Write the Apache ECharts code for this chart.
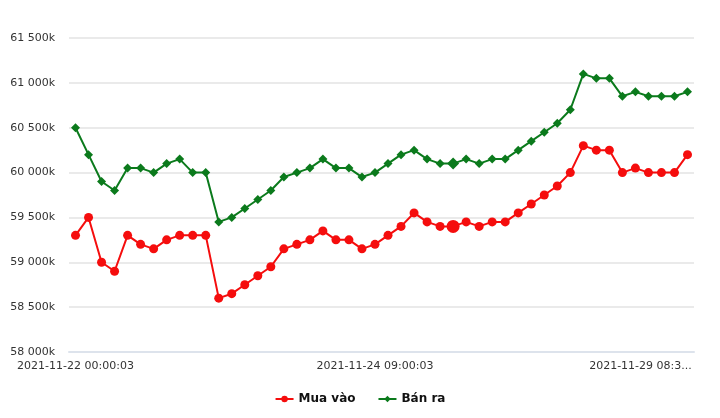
<!DOCTYPE html>
<html>
<head>
<meta charset="utf-8">
<script src="https://cdn.jsdelivr.net/npm/echarts@6/dist/echarts.min.js"></script>
<style>
html,body{margin:0;padding:0;background:#fff;}
#chart{width:720px;height:418px;}
</style>
</head>
<body>
<div id="chart"></div>
<script>
const categories = [
  "2021-11-22 00:00:03","2021-11-22 08:30:03","2021-11-22 09:00:03","2021-11-22 09:30:03","2021-11-22 10:00:03","2021-11-22 10:30:03",
  "2021-11-22 11:00:03","2021-11-22 13:30:03","2021-11-22 14:00:03","2021-11-22 15:00:03","2021-11-22 16:00:03",
  "2021-11-23 00:00:03","2021-11-23 08:30:03","2021-11-23 09:00:03","2021-11-23 09:30:03","2021-11-23 10:00:03","2021-11-23 10:30:03",
  "2021-11-23 11:00:03","2021-11-23 13:30:03","2021-11-23 14:00:03","2021-11-23 15:00:03","2021-11-23 16:00:03",
  "2021-11-24 00:00:03","2021-11-24 09:00:03","2021-11-24 09:30:03","2021-11-24 10:00:03","2021-11-24 11:00:03","2021-11-24 14:00:03",
  "2021-11-24 15:30:03","2021-11-25 00:00:03","2021-11-25 08:30:03","2021-11-25 09:00:03","2021-11-25 10:00:03","2021-11-25 11:00:03",
  "2021-11-25 14:00:03","2021-11-25 15:30:03","2021-11-26 00:00:03","2021-11-26 08:30:03","2021-11-26 09:00:03","2021-11-26 09:30:03",
  "2021-11-26 10:00:03","2021-11-26 11:00:03","2021-11-26 14:00:03","2021-11-27 00:00:03","2021-11-27 09:00:03","2021-11-28 00:00:03",
  "2021-11-29 08:30:03","2021-11-29 09:00:03"
];
const muaVao = [
  59300,59500,59000,58900,59300,59200,59150,59250,59300,59300,59300,
  58600,58650,58750,58850,58950,59150,59200,59250,59350,59250,59250,
  59150,59200,59300,59400,59550,59450,59400,59400,59450,59400,59450,59450,
  59550,59650,59750,59850,60000,60300,60250,60250,60000,60050,60000,60000,
  60000,60200
];
const banRa = [
  60500,60200,59900,59800,60050,60050,60000,60100,60150,60000,60000,
  59450,59500,59600,59700,59800,59950,60000,60050,60150,60050,60050,
  59950,60000,60100,60200,60250,60150,60100,60100,60150,60100,60150,60150,
  60250,60350,60450,60550,60700,61100,61050,61050,60850,60900,60850,60850,
  60850,60900
];
const labelIndices = [0, 23, 46];
const seriesNames = ["Mua vào", "Bán ra"];

const FONT = "'DejaVu Sans', sans-serif";
function fmtK(v){
  const s = String(Math.round(v));
  return s.replace(/\B(?=(\d{3})+(?!\d))/g, " ") + "k";
}
const chart = echarts.init(document.getElementById('chart'));
const highlightIdx = 29;
chart.setOption({
  animation: false,
  grid: {left: 69, right: 26, top: 38, bottom: 66},
  legend: {
    bottom: 8, left: 'center', itemGap: 22, itemWidth: 18, itemHeight: 8,
    textStyle: {fontFamily: FONT, fontSize: 12, color: '#111', fontWeight: 'bold'},
    data: seriesNames
  },
  xAxis: {
    type: 'category', data: categories, boundaryGap: true,
    axisLine: {show: true, lineStyle: {color: '#dde3ec', width: 2}},
    axisTick: {show: false},
    axisLabel: {
      interval: (i) => labelIndices.includes(i),
      margin: 9, fontFamily: FONT, fontSize: 11, color: '#333',
      formatter: (v, i) => i === 46 ? '{t|' + v.slice(0, 15) + '...}' : v,
      rich: {t: {fontFamily: FONT, fontSize: 11, color: '#333', padding: [0, 68, 0, 0]}}
    },
    splitLine: {show: false}
  },
  yAxis: {
    type: 'value', min: 58000, max: 61500, interval: 500,
    axisLine: {show: false}, axisTick: {show: false},
    axisLabel: {formatter: fmtK, fontFamily: FONT, fontSize: 11, color: '#333', margin: 14},
    splitLine: {lineStyle: {color: '#e3e3e3', width: 1.5}}
  },
  series: [
    {
      name: seriesNames[0], type: 'line', data: muaVao,
      symbol: 'circle', showSymbol: true, showAllSymbol: true,
      symbolSize: (v, p) => p.dataIndex === highlightIdx ? 13 : 9,
      itemStyle: {color: '#f50d0d'}, lineStyle: {color: '#f50d0d', width: 2}
    },
    {
      name: seriesNames[1], type: 'line', data: banRa,
      symbol: 'diamond', showSymbol: true, showAllSymbol: true,
      symbolSize: (v, p) => p.dataIndex === highlightIdx ? 12 : 9,
      itemStyle: {color: '#0b7a1c'}, lineStyle: {color: '#0b7a1c', width: 2}
    }
  ]
});
</script>
</body>
</html>
